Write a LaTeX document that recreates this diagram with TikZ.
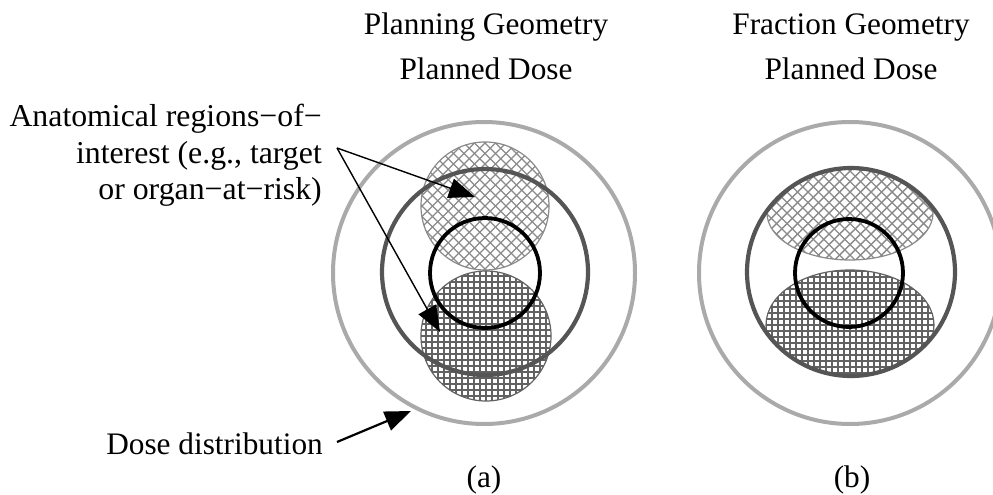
\documentclass[tikz,border=0pt]{standalone}
\usepackage{fontspec}
\setmainfont{Liberation Serif}
\usetikzlibrary{arrows.meta}
\definecolor{outerc}{HTML}{AAAAAA}
\definecolor{midc}{HTML}{555555}
\definecolor{hatchlight}{HTML}{8A8A8A}
\definecolor{hatchdark}{HTML}{626262}
\tikzset{
  lbl/.style={inner sep=0pt, font=\fontsize{31.3}{36.5}\selectfont},
  biglbl/.style={inner sep=0pt, font=\fontsize{31.8}{36.5}\selectfont},
  outerring/.style={draw=outerc, line width=4pt},
  midring/.style={draw=midc, line width=4.2pt},
  innerring/.style={draw=black, line width=3.8pt},
  diaghatch/.style={draw=hatchlight, line width=1.4pt},
  gridhatch/.style={draw=hatchdark, line width=1.35pt},
  regionoutline/.style={draw=hatchlight, line width=1.2pt},
  pointer/.style={draw=black, line width=1.4pt, -{Triangle[length=26pt,width=20pt]}},
}
\begin{document}
\begin{tikzpicture}[x=1pt,y=-1pt]
\useasboundingbox (0,0) rectangle (993,495);
\fill[white] (0,0) rectangle (993,495);

% ---------- titles ----------
\node[lbl, anchor=base] (ta1) at (486,35) {Planning Geometry};
\node[lbl, anchor=base] (ta2) at (486,80) {Planned Dose};
\node[lbl, anchor=base] (tb1) at (851,35) {Fraction Geometry};
\node[lbl, anchor=base] (tb2) at (851,80) {Planned Dose};
\node[lbl, anchor=base] (capa) at (484,487) {(a)};
\node[lbl, anchor=base] (capb) at (852,487) {(b)};

% ---------- panel (a): regions ----------
\begin{scope}[shift={(485,206)}]
  \clip (0,0) circle (64pt);
  \foreach \k in {-13,...,13} {
    \draw[diaghatch] (\k*10.5-90,-90) -- (\k*10.5+90,90);
    \draw[diaghatch] (\k*10.5-90,90) -- (\k*10.5+90,-90);
  }
\end{scope}
\draw[regionoutline] (485,206) circle (64pt);
\begin{scope}[shift={(486,336)}]
  \clip (0,0) circle (65pt);
  \foreach \k in {-11,...,11} {
    \draw[gridhatch] (\k*6,-70) -- (\k*6,70);
    \draw[gridhatch] (-70,\k*6) -- (70,\k*6);
  }
\end{scope}
\draw[regionoutline, draw=hatchdark] (486,336) circle (65pt);

% ---------- panel (a): dose rings ----------
\draw[outerring] (484,273) circle (151pt);
\draw[midring] (485,272) circle (103pt);
\draw[innerring] (485,273) circle (55pt);

% ---------- panel (b): regions ----------
\begin{scope}
  \clip (851,272) circle (104pt);
  \begin{scope}
    \clip (850,213) ellipse (83pt and 47pt);
    \foreach \k in {-18,...,18} {
      \draw[diaghatch] (850+\k*10.5-100,213-100) -- (850+\k*10.5+100,213+100);
      \draw[diaghatch] (850+\k*10.5-100,213+100) -- (850+\k*10.5+100,213-100);
    }
  \end{scope}
  \draw[regionoutline] (850,213) ellipse (83pt and 47pt);
  \begin{scope}
    \clip (850,325) ellipse (84pt and 55pt);
    \foreach \k in {-15,...,15} {
      \draw[gridhatch] (850+\k*6,325-60) -- (850+\k*6,325+60);
      \draw[gridhatch] (850-90,325+\k*6) -- (850+90,325+\k*6);
    }
  \end{scope}
  \draw[regionoutline, draw=hatchdark] (850,325) ellipse (84pt and 55pt);
\end{scope}

% ---------- panel (b): dose rings ----------
\draw[outerring] (850,273) circle (151pt);
\draw[midring] (851,272) circle (104pt);
\draw[innerring] (849,273) circle (54pt);

% ---------- labels and pointers ----------
\node[biglbl, anchor=north east, align=right] (roi) at (322,104)
  {Anatomical regions−of−\\interest (e.g., target\\or organ−at−risk)};
\coordinate (roiend) at (337,148);
\coordinate (roitipA) at (475,197);
\coordinate (roitipB) at (440,332);
\draw[pointer] (roiend) -- (roitipA);
\draw[pointer] (roiend) -- (roitipB);

\node[lbl, anchor=base east] (dose) at (323,454) {Dose distribution};
\coordinate (doseend) at (337,442);
\coordinate (dosetip) at (411,411);
\draw[pointer, line width=2.2pt] (doseend) -- (dosetip);
\end{tikzpicture}
\end{document}
